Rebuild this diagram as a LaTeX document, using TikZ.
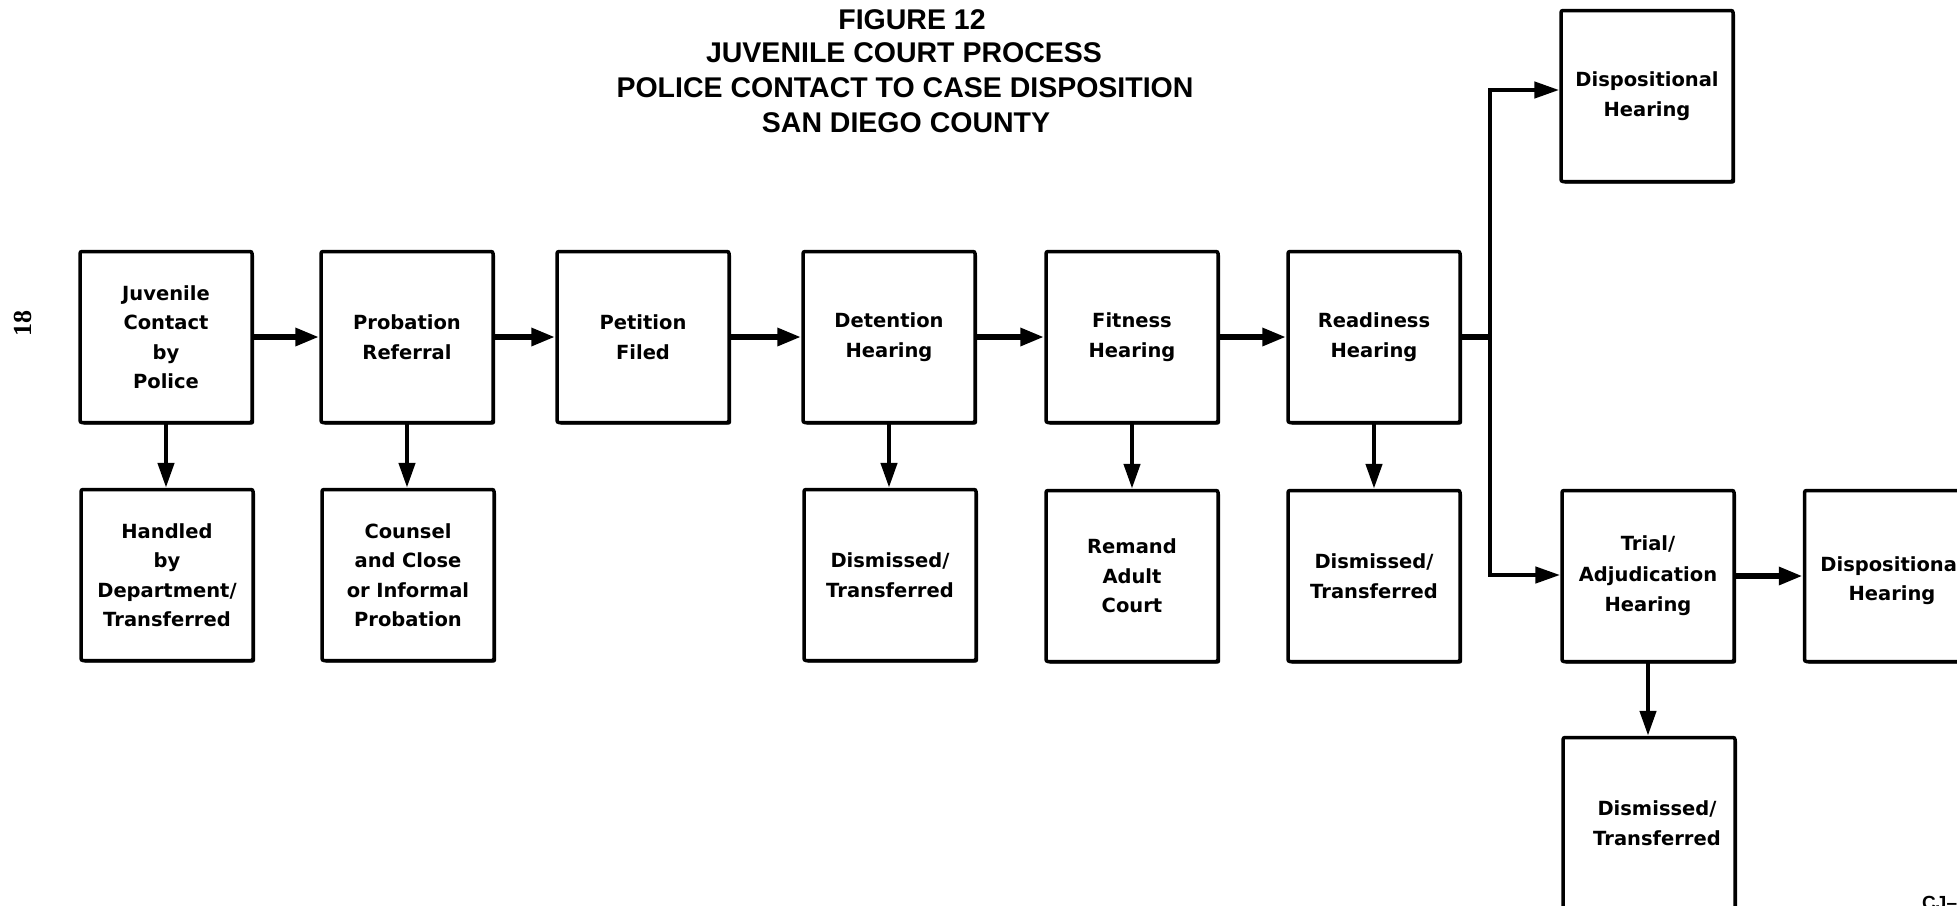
\documentclass[tikz,border=0pt]{standalone}
\usepackage{fontspec}
\setmainfont{DejaVu Sans}
\newfontfamily\titlefont{Liberation Sans}
\newfontfamily\numfont{Liberation Serif}
\usetikzlibrary{arrows.meta,shadows}
\tikzset{
  box/.style={draw, line width=3.5pt, fill=white, rounded corners=2pt,
    minimum width=172pt, minimum height=171pt, inner sep=0pt,
    text width=168pt, align=center,
    font=\bfseries\fontsize{19.5}{29.5}\selectfont,
    drop shadow={shadow xshift=2pt, shadow yshift=-2pt, opacity=1, fill=black}},
  harr/.style={line width=6pt, -{Triangle[length=24pt,width=17pt]}},
  varr/.style={line width=4.5pt, -{Triangle[length=25pt,width=16pt]}},
  titleline/.style={anchor=base, inner sep=0pt, font=\titlefont\bfseries\fontsize{28.5}{35}\selectfont},
}
\begin{document}
\begin{tikzpicture}[x=1pt,y=-1pt]
\useasboundingbox (0,0) rectangle (1957,905);
\fill[white] (0,0) rectangle (1957,905);

% title
\node[titleline] (t1) at (912,29) {FIGURE 12};
\node[titleline] (t2) at (904,62) {JUVENILE COURT PROCESS};
\node[titleline] (t3) at (905,97) {POLICE CONTACT TO CASE DISPOSITION};
\node[titleline] (t4) at (906,132) {SAN DIEGO COUNTY};

% page number
\node[rotate=90, inner sep=0pt, font=\numfont\bfseries\fontsize{26}{26}\selectfont] (pg) at (23,323) {18};

% top row
\node[box] (jc) at (166,337) {Juvenile\\Contact\\by\\Police};
\node[box] (pr) at (407,337) {Probation\\Referral};
\node[box] (pf) at (643,337) {Petition\\Filed};
\node[box] (dh) at (889,337) {Detention\\Hearing};
\node[box] (fh) at (1132,337) {Fitness\\Hearing};
\node[box] (rh) at (1374,337) {Readiness\\Hearing};

% bottom row
\node[box] (hd) at (167,575) {Handled\\by\\Department/\\Transferred};
\node[box] (cc) at (408,575) {Counsel\\and Close\\or Informal\\Probation};
\node[box] (d1) at (890,575) {Dismissed/\\Transferred};
\node[box] (ra) at (1132,576) {Remand\\Adult\\Court};
\node[box] (d2) at (1374,576) {Dismissed/\\Transferred};

% right part
\node[box] (dt) at (1647,96) {Dispositional\\Hearing\\[18pt]};
\node[box] (tr) at (1648,576) {Trial/\\[1pt]Adjudication\\[1pt]Hearing};
\node[box, minimum width=175pt] (dr) at (1892,576) {\mbox{}\\[-5pt]Dispositional\\Hearing};
\node[box] (d3) at (1649,823) {\hspace*{16pt}Dismissed/\\\hspace*{16pt}Transferred\\[12pt]};

\node[anchor=north west, inner sep=0pt, font=\titlefont\bfseries\fontsize{19}{19}\selectfont] (cj) at (1922,896) {CJ–};

% connectors
\draw[harr] (jc) -- (pr);
\draw[harr] (pr) -- (pf);
\draw[harr] (pf) -- (dh);
\draw[harr] (dh) -- (fh);
\draw[harr] (fh) -- (rh);
\draw[varr] (jc.south) -- (jc.south |- hd.north);
\draw[varr] (pr.south) -- (pr.south |- cc.north);
\draw[varr] (dh.south) -- (dh.south |- d1.north);
\draw[varr] (fh.south) -- (fh.south |- ra.north);
\draw[varr] (rh.south) -- (rh.south |- d2.north);

\coordinate (br) at (1490,337);
\coordinate (bt) at (1490,90);
\coordinate (bb) at (1490,575);
\draw[line width=6pt] (rh.east) -- (br);
\draw[varr] (br) -- (bt) -- (dt.west |- bt);
\draw[varr] (br) -- (bb) -- (tr.west |- bb);
\draw[harr] (tr) -- (dr);
\draw[varr] (tr.south) -- (tr.south |- d3.north);
\end{tikzpicture}
\end{document}
